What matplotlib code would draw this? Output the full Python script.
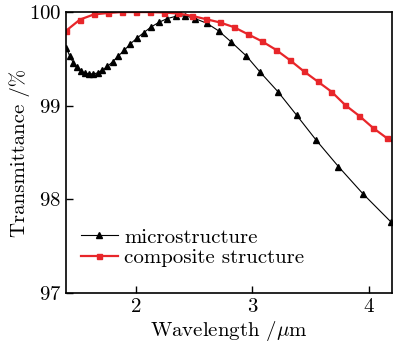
import matplotlib
matplotlib.use("Agg")
import matplotlib.pyplot as plt
from matplotlib.ticker import FixedLocator

plt.rcParams['font.family'] = ['cmr10', 'DejaVu Serif']
plt.rcParams['axes.formatter.use_mathtext'] = True
plt.rcParams['mathtext.fontset'] = 'cm'

# microstructure (black triangles)
micro_wl = [1.403, 1.432, 1.462, 1.493, 1.526, 1.560, 1.595, 1.633, 1.672, 1.713,
            1.756, 1.801, 1.848, 1.899, 1.952, 2.008, 2.067, 2.130, 2.197, 2.268,
            2.344, 2.425, 2.51, 2.61, 2.71, 2.82, 2.95, 3.07, 3.22, 3.38,
            3.55, 3.74, 3.95, 4.19]
micro_t = [99.62, 99.53, 99.46, 99.41, 99.37, 99.35, 99.34, 99.34, 99.35, 99.38,
           99.42, 99.47, 99.53, 99.59, 99.66, 99.72, 99.78, 99.84, 99.89, 99.93,
           99.955, 99.96, 99.93, 99.88, 99.80, 99.68, 99.53, 99.355, 99.15, 98.90,
           98.63, 98.35, 98.06, 97.76]

# composite structure (red squares)
comp_wl = [1.40, 1.52, 1.64, 1.76, 1.88, 2.00, 2.12, 2.24, 2.36, 2.48,
           2.60, 2.72, 2.84, 2.96, 3.08, 3.20, 3.32, 3.44, 3.56, 3.68,
           3.80, 3.92, 4.04, 4.16, 4.20]
comp_t = [99.80, 99.92, 99.975, 99.99, 100.0, 100.0, 100.0, 99.995, 99.985, 99.96,
          99.925, 99.89, 99.84, 99.765, 99.69, 99.60, 99.49, 99.37, 99.26, 99.15,
          99.005, 98.89, 98.76, 98.65, 98.62]

fig = plt.figure(figsize=(3.94, 3.45), dpi=100)
ax = fig.add_axes([0.1675, 0.1507, 0.8275, 0.8143])

ax.plot(micro_wl, micro_t, '-^', color='black', lw=0.8, ms=4.2,
        label='microstructure')
ax.plot(comp_wl, comp_t, '-s', color='#e8262a', lw=1.6, ms=3.6,
        markevery=list(range(len(comp_wl) - 1)), label='composite structure')

ax.set_xlim(1.4, 4.2)
ax.set_ylim(97, 100)
ax.xaxis.set_major_locator(FixedLocator([2, 3, 4]))
ax.yaxis.set_major_locator(FixedLocator([97, 98, 99, 100]))
ax.tick_params(direction='in', length=5, width=1, labelsize=15, top=False, right=False)
for s in ax.spines.values():
    s.set_linewidth(1.2)

ax.set_xlabel(r'Wavelength /$\mu$m', fontsize=15, labelpad=2)
ax.set_ylabel('Transmittance /%', fontsize=15, labelpad=-1)

ax.legend(loc='lower left', bbox_to_anchor=(0.0, 0.04), frameon=False,
          fontsize=15, handlelength=1.8, handletextpad=0.3, labelspacing=0.1,
          borderaxespad=0.3)

fig.savefig('out.png', dpi=100)
